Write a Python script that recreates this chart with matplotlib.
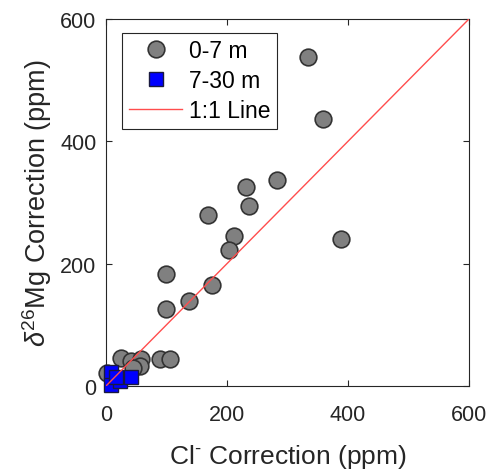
import matplotlib
matplotlib.use("Agg")
import matplotlib.pyplot as plt

plt.rcParams['font.family'] = ['Liberation Sans', 'DejaVu Sans']
plt.rcParams['mathtext.fontset'] = 'custom'
plt.rcParams['mathtext.rm'] = 'Liberation Sans'
plt.rcParams['mathtext.it'] = 'Liberation Sans:italic'

# 0-7 m samples
shallow_cl = [334, 359, 389, 283, 232, 237, 168, 212, 204, 175, 138, 99, 99,
              2, 25, 41, 58, 57, 44, 89, 105]
shallow_mg = [538, 436, 241, 336, 326, 295, 280, 246, 222, 165, 139, 183, 126,
              22, 46, 41, 44, 33, 29, 44, 44]

# 7-30 m samples
deep_cl = [8, 8, 23, 41, 17]
deep_mg = [23, 2, 8, 15, 15]

line_vals = [0, 600]
ticks = [0, 200, 400, 600]

fig = plt.figure(figsize=(4.9, 4.77), dpi=100)
ax = fig.add_axes([0.2163, 0.1887, 0.7407, 0.7693])

ax.plot(shallow_cl, shallow_mg, 'o', ms=12, mfc='#808080', mec='#333333',
        mew=1.2, label='0-7 m', clip_on=False, zorder=3)
ax.plot(deep_cl, deep_mg, 's', ms=9.5, mfc='#0000ff', mec='#1a1a40',
        mew=1.0, label='7-30 m', clip_on=False, zorder=4)
ax.plot(line_vals, line_vals, '-', color='#ff4d4d', lw=1.0, label='1:1 Line', zorder=5)

ax.set_xlim(0, 600)
ax.set_ylim(0, 600)
ax.set_xticks(ticks)
ax.set_yticks(ticks)
ax.tick_params(direction='in', top=True, right=True, labelsize=15.5,
               colors='#262626', length=4, width=0.8)
ax.tick_params(axis='x', pad=13)
ax.tick_params(axis='y', pad=7)
for s in ax.spines.values():
    s.set_color('#262626')
    s.set_linewidth(0.8)

ax.set_xlabel('Cl$^{\\text{-}}$ Correction (ppm)', fontsize=19, color='#262626', labelpad=12)
ax.set_ylabel(r'$\delta^{26}$Mg Correction (ppm)', fontsize=19.5, color='#262626', labelpad=4)

leg = ax.legend(loc='upper left', bbox_to_anchor=(0.045, 0.963), fontsize=16.5,
                frameon=True, fancybox=False, edgecolor='#262626', framealpha=1,
                handlelength=2.3, handletextpad=0.3, borderpad=0.3,
                labelspacing=0.3, borderaxespad=0)
leg.get_frame().set_linewidth(0.8)

fig.savefig('out.png', dpi=100)
